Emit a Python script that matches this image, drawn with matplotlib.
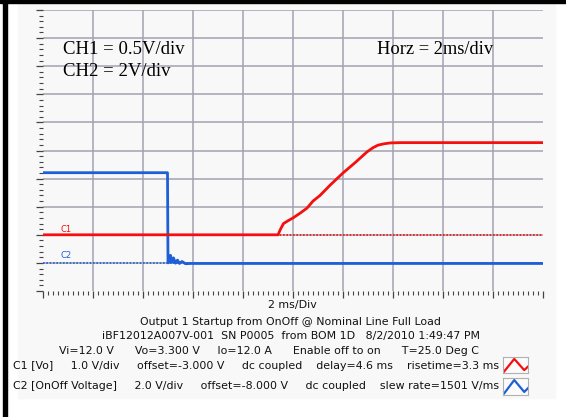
import matplotlib
matplotlib.use("Agg")
import matplotlib.pyplot as plt
from matplotlib.patches import Rectangle

# --- data (time in ms, amplitude in scope divisions) ---
c1_ref = 2.0
c2_ref = 1.0

c1_t = [0.0, 9.40, 9.50, 9.62, 9.80, 10.0, 10.3, 10.56, 10.8, 11.08, 11.5, 12.0, 12.5, 12.96, 13.2, 13.4, 13.65, 13.9, 14.3, 20.0]
c1_v = [2.0, 2.0, 2.2, 2.40, 2.50, 2.60, 2.78, 2.95, 3.20, 3.40, 3.78, 4.20, 4.58, 4.95, 5.10, 5.19, 5.24, 5.27, 5.28, 5.28]

c2_t = [0.0, 4.98, 5.00, 5.06, 5.10, 5.15, 5.22, 5.30, 5.38, 5.46, 5.56, 5.70, 5.90, 20.0]
c2_v = [4.21, 4.21, 1.00, 1.05, 1.27, 1.02, 1.18, 0.99, 1.10, 0.98, 1.05, 0.97, 0.98, 0.98]

scale_lines = ["CH1 = 0.5V/div", "CH2 = 2V/div"]
horz_label = "Horz = 2ms/div"

info_lines = [
    "2 ms/Div",
    "Output 1 Startup from OnOff @ Nominal Line Full Load",
    "iBF12012A007V-001  SN P0005  from BOM 1D   8/2/2010 1:49:47 PM",
    "Vi=12.0 V      Vo=3.300 V     Io=12.0 A      Enable off to on      T=25.0 Deg C",
    "C1 [Vo]     1.0 V/div     offset=-3.000 V     dc coupled    delay=4.6 ms    risetime=3.3 ms",
    "C2 [OnOff Voltage]     2.0 V/div     offset=-8.000 V     dc coupled    slew rate=1501 V/ms",
]
info_y = [305, 322, 336, 351, 366, 386]
info_x = [292, 290, 291, 269, 256, 256]

icon_x = [0.05, 0.45, 0.85, 1.0]
icon_y = [0.10, 0.88, 0.18, 0.40]

RED = "#f50f0f"
BLUE = "#1f5fd6"
GRID = "#a3a2b3"
PANEL = "#f8f8f8"

W, H = 566, 417


def fx(x):
    return x / W


def fy(y):
    return 1 - y / H


fig = plt.figure(figsize=(W / 100, H / 100), dpi=100)
fig.patch.set_facecolor("white")

# light panel and the black frame bits
fig.patches.append(Rectangle((fx(18), fy(398)), fx(555) - fx(18), fy(3) - fy(398),
                             transform=fig.transFigure, color=PANEL, zorder=-2))
fig.patches.append(Rectangle((fx(0), fy(3)), 1, 3 / H, transform=fig.transFigure,
                             color="black", zorder=-1))
fig.patches.append(Rectangle((fx(3), 0), 3.5 / W, 1, transform=fig.transFigure,
                             color="black", zorder=-1))

ax = fig.add_axes([fx(43), fy(291), (543 - 43) / W, (291 - 10) / H])
ax.set_facecolor(PANEL)
ax.set_xlim(0, 20)
ax.set_ylim(0, 10)
for s in ax.spines.values():
    s.set_visible(False)

# graticule
ax.vlines([2 * i for i in range(1, 10)], 0, 10, color=GRID, lw=1.1, zorder=1)
ax.hlines(list(range(1, 11)), 0, 20, color=GRID, lw=1.1, zorder=1)

ax.set_xticks([2 * i for i in range(11)])
ax.set_xticks([0.2 * i for i in range(101)], minor=True)
ax.set_yticks(list(range(11)))
ax.set_yticks([0.2 * i for i in range(51)], minor=True)
ax.tick_params(which="both", labelbottom=False, labelleft=False, color="#444444", direction="out")
ax.tick_params(which="major", length=5, width=0.9)
ax.tick_params(which="minor", length=3, width=0.8)

# reference markers
ax.axhline(c1_ref, color=RED, lw=1.2, ls=(0, (1, 1)), zorder=2)
ax.axhline(c2_ref, color=BLUE, lw=1.2, ls=(0, (1, 1)), zorder=2)
ax.text(0.92, c1_ref + 0.2, "C1", color=RED, fontsize=6, ha="center", va="center")
ax.text(0.92, c2_ref + 0.25, "C2", color=BLUE, fontsize=6, ha="center", va="center")

# traces
ax.plot(c2_t, c2_v, color=BLUE, lw=2.0, zorder=3)
ax.plot(c1_t, c1_v, color=RED, lw=2.0, zorder=4)

# scale annotations
serif = "Liberation Serif"
fig.text(fx(63), fy(49), scale_lines[0], family=serif, fontsize=13.5, va="center")
fig.text(fx(63), fy(72), scale_lines[1], family=serif, fontsize=13.5, va="center")
fig.text(fx(377), fy(49), horz_label, family=serif, fontsize=13.3, va="center")

# info block under the screen
for txt, x, y in zip(info_lines, info_x, info_y):
    fig.text(fx(x), fy(y), txt, fontsize=7.9, color="#111111", ha="center", va="center")

# little waveform icons
for (top, bot), col in zip([(357, 373), (378, 395)], [RED, BLUE]):
    ia = fig.add_axes([fx(503), fy(bot), 25 / W, (bot - top) / H])
    ia.set_facecolor("#fbfbfb")
    ia.plot(icon_x, icon_y, color=col, lw=1.6)
    ia.set_xlim(0, 1)
    ia.set_ylim(0, 1)
    ia.set_xticks([])
    ia.set_yticks([])
    for s in ia.spines.values():
        s.set_color("#b0b0b0")
        s.set_linewidth(0.8)

fig.savefig("out.png", dpi=100)
